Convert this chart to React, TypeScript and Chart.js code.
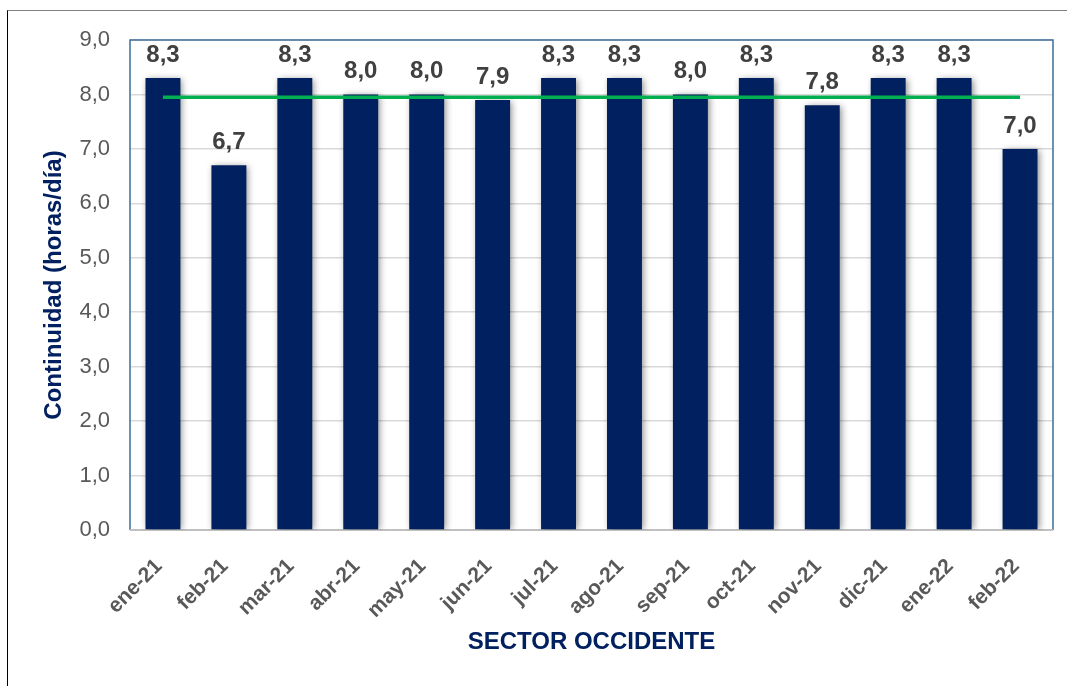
import React, { useEffect, useRef } from "react";
import { Chart, registerables } from "chart.js";

Chart.register(...registerables);

const categories = [
  "ene-21", "feb-21", "mar-21", "abr-21", "may-21", "jun-21", "jul-21",
  "ago-21", "sep-21", "oct-21", "nov-21", "dic-21", "ene-22", "feb-22",
];
const continuidad = [8.3, 6.7, 8.3, 8.0, 8.0, 7.9, 8.3, 8.3, 8.0, 8.3, 7.8, 8.3, 8.3, 7.0];
const promedio = [7.95, 7.95, 7.95, 7.95, 7.95, 7.95, 7.95, 7.95, 7.95, 7.95, 7.95, 7.95, 7.95, 7.95];
const yTicks = [0, 1, 2, 3, 4, 5, 6, 7, 8, 9];
const xTitle = "SECTOR OCCIDENTE";
const yTitle = "Continuidad (horas/día)";

const FONT = "'Liberation Sans', Arial, sans-serif";
const NAVY = "#002060";

const fmt = (v: number) => v.toFixed(1).replace(".", ",");

const shadowPlugin = {
  id: "barShadow",
  beforeDatasetDraw(chart: any, args: any) {
    if (args.index !== 0) return;
    const ctx = chart.ctx;
    ctx.save();
    ctx.shadowColor = "rgba(0,0,0,0.45)";
    ctx.shadowBlur = 7;
    ctx.shadowOffsetX = 2;
    ctx.shadowOffsetY = 1;
  },
  afterDatasetDraw(chart: any, args: any) {
    if (args.index !== 0) return;
    chart.ctx.restore();
  },
};

const framePlugin = {
  id: "plotFrame",
  beforeDatasetsDraw(chart: any) {
    const { ctx, chartArea } = chart;
    const { left, top, right, bottom } = chartArea;
    ctx.save();
    ctx.strokeStyle = "#3d6d9c";
    ctx.lineWidth = 1.5;
    ctx.beginPath();
    ctx.moveTo(left, bottom);
    ctx.lineTo(left, top);
    ctx.lineTo(right, top);
    ctx.lineTo(right, bottom);
    ctx.stroke();
    ctx.strokeStyle = "#c0c0c0";
    ctx.lineWidth = 2;
    ctx.beginPath();
    ctx.moveTo(left, bottom);
    ctx.lineTo(right, bottom);
    ctx.stroke();
    ctx.restore();
  },
};

const labelPlugin = {
  id: "valueLabels",
  afterDatasetsDraw(chart: any) {
    const ctx = chart.ctx;
    const meta = chart.getDatasetMeta(0);
    ctx.save();
    ctx.font = `bold 24px ${FONT}`;
    ctx.fillStyle = "#404040";
    ctx.textAlign = "center";
    ctx.textBaseline = "alphabetic";
    meta.data.forEach((el: any, i: number) => {
      ctx.fillText(fmt(continuidad[i]), el.x, el.y - 16);
    });
    ctx.restore();
  },
};

export default function App() {
  const ref = useRef<HTMLCanvasElement | null>(null);

  useEffect(() => {
    if (!ref.current) return;
    const chart = new Chart(ref.current, {
      type: "bar",
      data: {
        labels: categories,
        datasets: [
          {
            type: "bar",
            data: continuidad,
            backgroundColor: NAVY,
            borderWidth: 0,
            barPercentage: 0.53,
            categoryPercentage: 1,
            order: 2,
          } as any,
          {
            type: "line",
            data: promedio,
            borderColor: "#00b050",
            borderWidth: 3.5,
            pointRadius: 0,
            fill: false,
            order: 1,
          } as any,
        ],
      },
      options: {
        responsive: false,
        animation: false,
        layout: { padding: { left: 40, right: 14, top: 40, bottom: 25 } },
        plugins: {
          legend: { display: false },
          tooltip: { enabled: false },
        },
        scales: {
          x: {
            grid: { display: false, drawTicks: false },
            border: { display: false },
            ticks: {
              autoSkip: false,
              minRotation: 45,
              maxRotation: 45,
              padding: 24,
              labelOffset: -4,
              color: "#595959",
              font: { family: FONT, size: 21, weight: "bold" },
            },
            title: {
              display: true,
              text: xTitle,
              color: NAVY,
              padding: { top: 0, bottom: 4 },
              font: { family: FONT, size: 24, weight: "bold" },
            },
            afterFit: (s: any) => {
              s.height = 131;
            },
          },
          y: {
            min: 0,
            max: 9,
            grid: { color: "#d9d9d9", lineWidth: 1.5, drawTicks: false },
            border: { display: false },
            afterBuildTicks: (s: any) => {
              s.ticks = yTicks.map((v) => ({ value: v }));
            },
            ticks: {
              padding: 20,
              color: "#595959",
              font: { family: FONT, size: 22 },
              callback: (v: any) => fmt(Number(v)),
            },
            title: {
              display: true,
              text: yTitle,
              color: NAVY,
              padding: { top: 0, bottom: 4 },
              font: { family: FONT, size: 24, weight: "bold" },
            },
            afterFit: (s: any) => {
              s.width = 90;
            },
          },
        },
      },
      plugins: [framePlugin, shadowPlugin, labelPlugin],
    });
    return () => chart.destroy();
  }, []);

  return (
    <div style={{ position: "fixed", left: 0, top: 0, width: 1067, height: 686, background: "#fff" }}>
      <div
        style={{
          position: "absolute",
          left: 7,
          top: 10,
          width: 1060,
          height: 676,
          borderTop: "1.5px solid #808080",
          borderLeft: "1px solid #000",
          boxSizing: "border-box",
        }}
      />
      <canvas
        ref={ref}
        width={1067}
        height={686}
        style={{ position: "absolute", left: 0, top: 0, width: 1067, height: 686 }}
      />
    </div>
  );
}
